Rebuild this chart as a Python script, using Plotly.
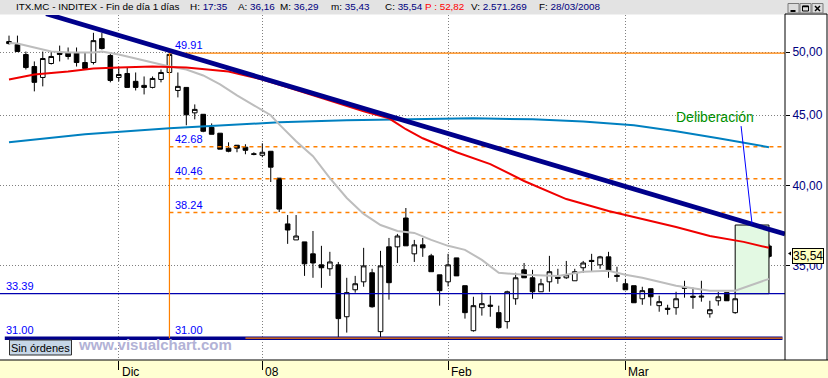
import math
import plotly.graph_objects as go

# ---------------- data ----------------
trading_days = {
    "2007-11": [14, 15, 16, 19, 20, 21, 22, 23, 26, 27, 28, 29, 30],
    "2007-12": [3, 4, 5, 6, 7, 10, 11, 12, 13, 14, 17, 18, 19, 20, 21, 27, 28],
    "2008-01": [2, 3, 4, 7, 8, 9, 10, 11, 14, 15, 16, 17, 18, 21, 22, 23, 24, 25, 28, 29, 30, 31],
    "2008-02": [1, 4, 5, 6, 7, 8, 11, 12, 13, 14, 15, 18, 19, 20, 21, 22, 25, 26, 27, 28, 29],
    "2008-03": [3, 4, 5, 6, 7, 10, 11, 12, 13, 14, 17, 18, 19, 20, 25, 26, 27, 28],
}
month_labels = {"2007-12": "Dic", "2008-01": "08", "2008-02": "Feb", "2008-03": "Mar"}

opens = [50.88, 50.63, 49.79, 48.80, 47.92, 49.05, 49.92, 49.96, 49.96, 49.13,
         49.13, 51.13, 49.71, 47.92, 48.24, 47.61, 47.29, 47.13, 47.76, 48.32,
         46.89, 47.13, 45.17, 45.06, 44.09, 43.66, 42.58, 42.79, 42.65, 42.18,
         42.08, 42.36, 40.50, 37.52, 36.53, 36.41, 35.69, 35.04, 34.81, 35.04,
         32.13, 33.61, 34.06, 34.58, 31.34, 36.11, 36.11, 37.89, 35.69, 36.23,
         35.57, 34.46, 34.06, 35.45, 33.84, 31.39, 32.62, 32.76, 32.35, 31.87,
         33.11, 34.75, 34.29, 33.50, 34.06, 34.32, 34.29, 34.12, 34.87, 35.30,
         35.04, 35.51, 34.43, 33.95, 33.84, 33.11, 33.67, 32.73, 32.59, 32.62,
         33.75, 33.25, 33.20, 32.29, 33.00, 33.45, 32.35, 34.12, 34.81, 36.11,
         36.16]
highs = [51.39, 51.39, 50.04, 49.22, 50.04, 50.04, 50.54, 50.38, 50.38, 49.96,
         51.63, 51.63, 49.88, 48.80, 48.72, 48.32, 48.00, 48.00, 48.56, 49.91,
         48.32, 47.13, 45.81, 45.06, 44.38, 43.66, 43.00, 42.79, 42.86, 42.29,
         42.93, 42.36, 40.50, 38.08, 38.08, 36.41, 37.08, 36.17, 35.81, 35.21,
         34.29, 34.40, 36.05, 34.81, 35.87, 36.65, 36.90, 38.53, 36.53, 36.65,
         35.69, 34.46, 35.69, 35.45, 33.84, 33.22, 33.45, 33.28, 32.73, 33.56,
         34.58, 35.15, 34.75, 34.23, 35.57, 34.81, 35.27, 34.81, 35.27, 35.69,
         35.57, 35.81, 34.93, 34.23, 33.84, 33.78, 33.67, 33.28, 32.78, 33.50,
         34.12, 33.73, 34.12, 33.00, 33.50, 33.45, 33.50, 35.69, 36.47, 36.90,
         36.29]
lows = [50.63, 50.00, 48.56, 46.82, 47.21, 48.97, 49.22, 49.38, 48.80, 48.56,
        48.97, 50.21, 47.53, 47.61, 47.13, 46.89, 46.58, 47.05, 47.53, 48.16,
        46.35, 44.24, 44.68, 43.73, 43.58, 42.51, 42.29, 42.29, 42.15, 42.08,
        41.94, 40.24, 38.27, 36.29, 36.53, 34.40, 34.29, 33.72, 34.40, 31.05,
        31.29, 33.45, 33.78, 32.62, 31.00, 33.06, 35.15, 36.17, 35.21, 35.51,
        34.64, 32.73, 33.80, 34.40, 32.03, 31.34, 32.19, 32.13, 31.50, 31.50,
        32.78, 34.29, 33.11, 33.50, 33.50, 33.95, 34.23, 34.12, 34.58, 34.64,
        34.81, 34.29, 34.06, 33.61, 32.89, 32.78, 32.73, 32.40, 32.24, 32.24,
        33.17, 32.56, 32.95, 32.08, 32.73, 33.00, 32.29, 33.95, 34.81, 35.81,
        35.43]
closes = [50.71, 50.04, 48.72, 47.53, 49.46, 49.63, 49.80, 49.63, 49.13, 48.64,
          50.96, 50.29, 47.68, 48.16, 47.13, 47.13, 47.13, 47.84, 48.32, 49.80,
          47.21, 45.02, 45.43, 43.80, 43.58, 42.51, 42.36, 42.58, 42.43, 42.15,
          42.29, 41.25, 38.46, 37.14, 36.77, 35.10, 35.15, 34.87, 35.21, 32.03,
          33.45, 33.95, 34.98, 32.67, 34.98, 34.01, 36.77, 36.17, 36.23, 36.05,
          34.64, 33.56, 35.04, 34.40, 32.35, 32.73, 32.84, 32.70, 31.55, 33.50,
          34.29, 34.29, 33.50, 33.95, 34.64, 34.26, 34.46, 34.64, 35.15, 35.24,
          35.51, 34.69, 34.37, 33.61, 32.89, 33.56, 33.22, 32.95, 32.53, 33.11,
          33.70, 33.20, 33.25, 32.51, 33.22, 33.00, 33.11, 35.21, 36.47, 36.23,
          35.54]

# moving averages, sampled at candle indices
ma_gray_idx = [0, 1, 3, 5, 7, 10, 11, 13, 15, 17, 19, 21, 23, 25, 27, 29, 31, 32, 34, 36,
               38, 40, 42, 44, 46, 48, 50, 52, 54, 56, 58, 61, 65, 68, 71, 73, 75, 79, 83,
               86, 87, 90]
ma_gray_vals = [50.76, 50.71, 50.38, 50.04, 49.96, 49.96, 50.04, 49.79, 49.46, 49.13,
                48.80, 48.56, 48.08, 47.37, 46.51, 45.74, 44.99, 44.31, 43.07, 42.01,
                40.50, 39.18, 38.15, 37.45, 37.08, 36.96, 36.53, 36.17, 35.93, 35.33,
                34.58, 34.46, 34.40, 34.64, 34.69, 34.46, 34.29, 33.84, 33.56, 33.56,
                33.73, 34.23]
ma_red_idx = [0, 3, 7, 10, 13, 17, 21, 24, 26, 28, 30, 33, 36, 39, 42, 45, 47, 49, 53, 57,
              61, 66, 71, 75, 79, 83, 87, 90]
ma_red_vals = [47.76, 48.16, 48.40, 48.64, 48.72, 48.80, 48.72, 48.56, 48.40, 48.08,
               47.76, 47.13, 46.51, 45.89, 45.28, 44.76, 43.95, 43.29, 42.29, 41.46,
               40.31, 39.11, 38.34, 37.83, 37.33, 36.77, 36.41, 36.05]
ma_blue_idx = [0, 9, 19, 27, 32, 40, 48, 55, 62, 68, 74, 79, 84, 90]
ma_blue_vals = [43.00, 43.58, 44.02, 44.31, 44.46, 44.61, 44.72, 44.76, 44.68, 44.53,
                44.24, 43.80, 43.29, 42.65]

trend_idx = [4.4, 91.9]
trend_vals = [53.30, 36.89]

fib_start_idx = 19
fib_levels = [49.91, 42.68, 40.46, 38.24, 31.00]
fib_low_start_idx = 28
support_level = 33.39
floor_level = 31.00

box_idx = [86, 90]
box_vals = [33.39, 37.45]
callout_idx = [86.7, 88.0]
callout_vals = [44.18, 37.51]
callout_text = "Deliberación"

y_ticks = [35, 40, 45, 50]
last_price = 35.54

header_title = "ITX.MC - INDITEX - Fin de día 1 días"
header_fields = [("H:", "17:35"), ("A:", "36,16"), ("M:", "36,29"), ("m:", "35,43"),
                 ("C:", "35,54"), ("P :", "52,82"), ("V:", "2.571.269"), ("F:", "28/03/2008")]

# ---------------- derived ----------------
dates = [f"{m}-{d:02d}" for m, days in trading_days.items() for d in days]
idx = list(range(len(dates)))
tick_idx, tick_txt = [], []
prev = None
for i, d in enumerate(dates):
    m = d[:7]
    if m != prev and m in month_labels:
        tick_idx.append(i)
        tick_txt.append(month_labels[m])
    prev = m

# ---------------- geometry / style ----------------
W, H = 828, 378
ML, MR, MT, MB = 0, 43, 15, 18
PW, PH = W - ML - MR, H - MT - MB
FONT = "Liberation Sans, Arial, sans-serif"
X_RANGE = [-1.066, 91.9]
Y_RANGE = [math.log10(29.89), math.log10(53.19)]
XR = X_RANGE[1] + 1
HDR = 9.9


def px(x):
    return x / PW


def py(y):
    return (MT + PH - y) / PH


fig = go.Figure()


def line(xs, ys, color, width, dash=None):
    fig.add_trace(go.Scatter(x=xs, y=ys, mode="lines", hoverinfo="skip",
                             line=dict(color=color, width=width, dash=dash)))


# green box
fig.add_trace(go.Scatter(x=[box_idx[0], box_idx[1], box_idx[1], box_idx[0], box_idx[0]],
                         y=[box_vals[0], box_vals[0], box_vals[1], box_vals[1], box_vals[0]],
                         mode="lines", fill="toself", fillcolor="#e3f9e3",
                         line=dict(color="black", width=1), hoverinfo="skip"))

# support lines
line([X_RANGE[0] - 1, XR], [support_level] * 2, "#0000b0", 1.2)
line([-0.5, 91.6], [floor_level] * 2, "#00008b", 3.5)

# fibonacci
line([fib_start_idx, fib_start_idx], [fib_levels[0], fib_levels[-1]], "#ff8000", 1.2)
for k, lv in enumerate(fib_levels):
    if k == 0:
        line([fib_start_idx, XR], [lv] * 2, "#ff8000", 1.2)
    elif k == len(fib_levels) - 1:
        line([fib_low_start_idx, 91.6], [lv] * 2, "#ff8000", 1.2)
    else:
        line([fib_start_idx, XR], [lv] * 2, "#ff8000", 1.5, "4px,4px")

# moving averages
line(ma_blue_idx, ma_blue_vals, "#0080c0", 2)
line(ma_gray_idx, ma_gray_vals, "#bdbdbd", 2)
line(ma_red_idx, ma_red_vals, "#f00000", 2)

# trendline
line(trend_idx, trend_vals, "#00008b", 4.8)

# callout line
line(callout_idx, callout_vals, "#0000ff", 1)

# candles
fig.add_trace(go.Candlestick(
    x=idx, open=opens, high=highs, low=lows, close=closes,
    increasing=dict(line=dict(color="black", width=1), fillcolor="white"),
    decreasing=dict(line=dict(color="black", width=1), fillcolor="black"),
    whiskerwidth=0, hoverinfo="skip"))

shapes = []
# header bar
shapes.append(dict(type="rect", xref="paper", yref="paper", x0=px(0), x1=px(W), y0=py(14.5), y1=py(0),
                   fillcolor="#e3e3e3", line=dict(width=0), layer="below"))
# bottom band
shapes.append(dict(type="rect", xref="paper", yref="paper", x0=px(0), x1=px(W), y0=py(H), y1=py(360),
                   fillcolor="#ffffd2", line=dict(width=0), layer="below"))
# frame lines
for (x0, y0, x1, y1) in [(0, 360, W, 360), (785, 14, 785, 360), (827, 14, 827, 360), (785, 14, 827, 14)]:
    shapes.append(dict(type="line", xref="paper", yref="paper", x0=px(x0), x1=px(x1), y0=py(y0), y1=py(y1),
                       line=dict(color="black", width=1)))
# window buttons
for bx in [788, 800, 812]:
    shapes.append(dict(type="rect", xref="paper", yref="paper", x0=px(bx), x1=px(bx + 11), y0=py(13), y1=py(3.5),
                       fillcolor="#dcdcdc", line=dict(color="#7a7a7a", width=1)))
shapes.append(dict(type="line", xref="paper", yref="paper", x0=px(790.5), x1=px(795.5), y0=py(11), y1=py(11),
                   line=dict(color="black", width=2)))
shapes.append(dict(type="rect", xref="paper", yref="paper", x0=px(802.5), x1=px(808.5), y0=py(11), y1=py(6),
                   line=dict(color="black", width=1)))
shapes.append(dict(type="line", xref="paper", yref="paper", x0=px(802.5), x1=px(808.5), y0=py(6.5), y1=py(6.5),
                   line=dict(color="black", width=1.5)))
shapes.append(dict(type="line", xref="paper", yref="paper", x0=px(815), x1=px(820), y0=py(6), y1=py(11),
                   line=dict(color="black", width=1.5)))
shapes.append(dict(type="line", xref="paper", yref="paper", x0=px(815), x1=px(820), y0=py(11), y1=py(6),
                   line=dict(color="black", width=1.5)))
# "Sin órdenes" box
shapes.append(dict(type="rect", xref="paper", yref="paper", x0=px(9.5), x1=px(71.5), y0=py(355), y1=py(340),
                   fillcolor="#c6d6e6", line=dict(color="#303030", width=1)))
# price marker arrow
shapes.append(dict(type="path", xref="paper", yref="paper",
                   path=f"M {px(788)},{py(253.5)} L {px(791)},{py(251.5)} L {px(791)},{py(255.5)} Z",
                   fillcolor="black", line=dict(width=0)))

ann = []
# header
hx = [14, 188, 236, 278, 329, 383, 423, 469, 537]
ann.append(dict(text=header_title, xref="paper", yref="paper", x=px(hx[0]), y=py(7), xanchor="left",
                yanchor="middle", showarrow=False, font=dict(family=FONT, size=HDR, color="black")))
for (lab, val), x in zip(header_fields, hx[1:]):
    if lab.startswith("P"):
        txt = f"<span style='color:#ff0000'>{lab} {val}</span>"
    else:
        txt = f"{lab} <span style='color:#000080'>{val}</span>"
    ann.append(dict(text=txt, xref="paper", yref="paper", x=px(x), y=py(7), xanchor="left",
                    yanchor="middle", showarrow=False, font=dict(family=FONT, size=HDR, color="black")))

# fib labels
for lv in fib_levels:
    ann.append(dict(text=f"{lv:.2f}", x=fib_start_idx, y=math.log10(lv), xanchor="left", yanchor="bottom",
                    xshift=4, showarrow=False, font=dict(family=FONT, size=11, color="#0000ff")))
for lv in [support_level, floor_level]:
    ann.append(dict(text=f"{lv:.2f}", xref="paper", x=px(4), y=math.log10(lv), xanchor="left",
                    yanchor="bottom", showarrow=False, font=dict(family=FONT, size=11, color="#0000ff")))

# callout text
ann.append(dict(text=callout_text, x=83.6, y=math.log10(44.86), xanchor="center", yanchor="middle",
                showarrow=False, font=dict(family=FONT, size=14, color="#009000")))

# last price label
ann.append(dict(text=f"{last_price:.2f}".replace(".", ","), xref="paper", x=px(792), y=math.log10(last_price),
                xanchor="left", yanchor="middle", showarrow=False, bgcolor="#ffffc0", bordercolor="black",
                borderwidth=1, borderpad=0, font=dict(family=FONT, size=12, color="black")))

# x labels
for ti, tt in zip(tick_idx, tick_txt):
    ann.append(dict(text=tt, x=ti, yref="paper", y=py(371.5), xanchor="left", yanchor="middle", xshift=1,
                    showarrow=False, font=dict(family=FONT, size=12, color="black")))

# footer
ann.append(dict(text="Sin órdenes", xref="paper", yref="paper", x=px(40.5), y=py(347.5), xanchor="center",
                yanchor="middle", showarrow=False, font=dict(family=FONT, size=11, color="black")))
ann.append(dict(text="<b>www.visualchart.com</b>", xref="paper", yref="paper", x=px(76), y=py(344),
                xanchor="left", yanchor="middle", showarrow=False,
                font=dict(family=FONT, size=15, color="#b2b2d6")))

fig.update_layout(
    template="none",
    width=W, height=H,
    margin=dict(l=ML, r=MR, t=MT, b=MB, pad=0),
    paper_bgcolor="white", plot_bgcolor="white",
    showlegend=False, boxgap=0.22,
    shapes=shapes, annotations=ann,
    xaxis=dict(type="linear", range=X_RANGE, tickvals=tick_idx, showticklabels=False,
               ticks="outside", ticklen=9, tickcolor="black", tickwidth=1,
               showgrid=True, gridcolor="#808080", griddash="1px,2px", gridwidth=1,
               zeroline=False, showline=False, rangeslider=dict(visible=False), automargin=False),
    yaxis=dict(type="log", range=Y_RANGE, side="right", tickvals=y_ticks,
               ticktext=[f"{v:.2f}".replace(".", ",") for v in y_ticks],
               ticks="outside", ticklen=4, tickcolor="black",
               tickfont=dict(family=FONT, size=12, color="#000080"),
               showgrid=True, gridcolor="#808080", griddash="1px,2px", gridwidth=1,
               zeroline=False, showline=False, automargin=False),
)

fig.write_html("out.html", config={"displayModeBar": False},
               post_script="document.body.style.margin='0px';document.body.style.padding='0px';")
